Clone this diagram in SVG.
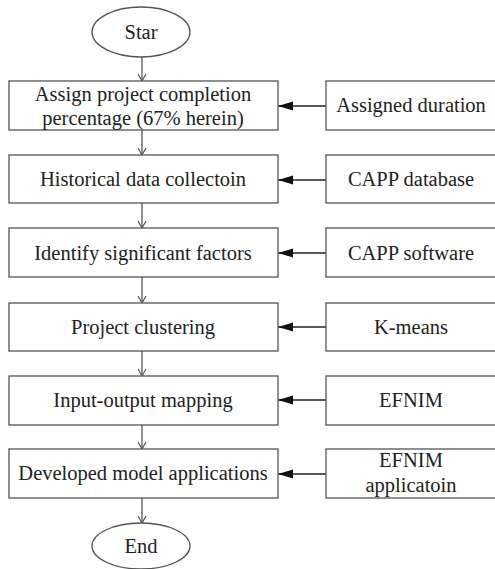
<svg xmlns="http://www.w3.org/2000/svg" width="495" height="569" viewBox="0 0 495 569">
<style>
.b{fill:#fff;stroke:#555;stroke-width:1.3}
.t{font-family:"Liberation Serif","Times New Roman",serif;font-size:20.5px;fill:#222;text-anchor:middle}
.v{stroke:#555;stroke-width:1.3;fill:none}
.h{stroke:#222;stroke-width:1.3;fill:none}
</style>
<defs>
<marker id="open" markerWidth="12" markerHeight="12" refX="10" refY="6" orient="auto" markerUnits="userSpaceOnUse">
<path d="M3,2 L10,6 L3,10" fill="none" stroke="#555" stroke-width="1.2"/>
</marker>
<marker id="fill" markerWidth="16" markerHeight="10" refX="15" refY="5" orient="auto" markerUnits="userSpaceOnUse">
<path d="M0,0.5 L15,5 L0,9.5 Z" fill="#111"/>
</marker>
</defs>
<g id="connectors">
<line class="v" x1="142" y1="57" x2="142" y2="81" marker-end="url(#open)"/>
<line class="v" x1="142" y1="130" x2="142" y2="155" marker-end="url(#open)"/>
<line class="v" x1="142" y1="203" x2="142" y2="228" marker-end="url(#open)"/>
<line class="v" x1="142" y1="277" x2="142" y2="303" marker-end="url(#open)"/>
<line class="v" x1="142" y1="351" x2="142" y2="376" marker-end="url(#open)"/>
<line class="v" x1="142" y1="425" x2="142" y2="449" marker-end="url(#open)"/>
<line class="v" x1="142" y1="498" x2="142" y2="523" marker-end="url(#open)"/>
<line class="h" x1="326" y1="106" x2="278" y2="106" marker-end="url(#fill)"/>
<line class="h" x1="326" y1="180" x2="278" y2="180" marker-end="url(#fill)"/>
<line class="h" x1="326" y1="253" x2="278" y2="253" marker-end="url(#fill)"/>
<line class="h" x1="326" y1="327" x2="278" y2="327" marker-end="url(#fill)"/>
<line class="h" x1="326" y1="400" x2="278" y2="400" marker-end="url(#fill)"/>
<line class="h" x1="326" y1="474" x2="278" y2="474" marker-end="url(#fill)"/>
</g>
<g id="start"><ellipse class="b" cx="141" cy="32" rx="49" ry="25"/><text class="t" x="141" y="39">Star</text></g>
<g id="n1"><rect class="b" x="9" y="81" width="269" height="49"/><text class="t" x="143" y="101">Assign project completion</text><text class="t" x="143" y="125">percentage (67% herein)</text></g>
<g id="n2"><rect class="b" x="9" y="155" width="269" height="48"/><text class="t" x="143" y="186">Historical data collectoin</text></g>
<g id="n3"><rect class="b" x="9" y="228" width="269" height="49"/><text class="t" x="143" y="260">Identify significant factors</text></g>
<g id="n4"><rect class="b" x="9" y="303" width="269" height="48"/><text class="t" x="143" y="334">Project clustering</text></g>
<g id="n5"><rect class="b" x="9" y="376" width="269" height="49"/><text class="t" x="143" y="407">Input-output mapping</text></g>
<g id="n6"><rect class="b" x="9" y="449" width="269" height="49"/><text class="t" x="143" y="480">Developed model applications</text></g>
<g id="end"><ellipse class="b" cx="141" cy="546" rx="49" ry="23"/><text class="t" x="141" y="553">End</text></g>
<g id="r1"><rect class="b" x="326" y="81" width="170" height="49"/><text class="t" x="411" y="112">Assigned duration</text></g>
<g id="r2"><rect class="b" x="326" y="155" width="170" height="48"/><text class="t" x="411" y="186">CAPP database</text></g>
<g id="r3"><rect class="b" x="326" y="228" width="170" height="49"/><text class="t" x="411" y="260">CAPP software</text></g>
<g id="r4"><rect class="b" x="326" y="303" width="170" height="48"/><text class="t" x="411" y="334">K-means</text></g>
<g id="r5"><rect class="b" x="326" y="376" width="170" height="49"/><text class="t" x="411" y="407">EFNIM</text></g>
<g id="r6"><rect class="b" x="326" y="449" width="170" height="49"/><text class="t" x="411" y="467">EFNIM</text><text class="t" x="411" y="492">applicatoin</text></g>
</svg>
